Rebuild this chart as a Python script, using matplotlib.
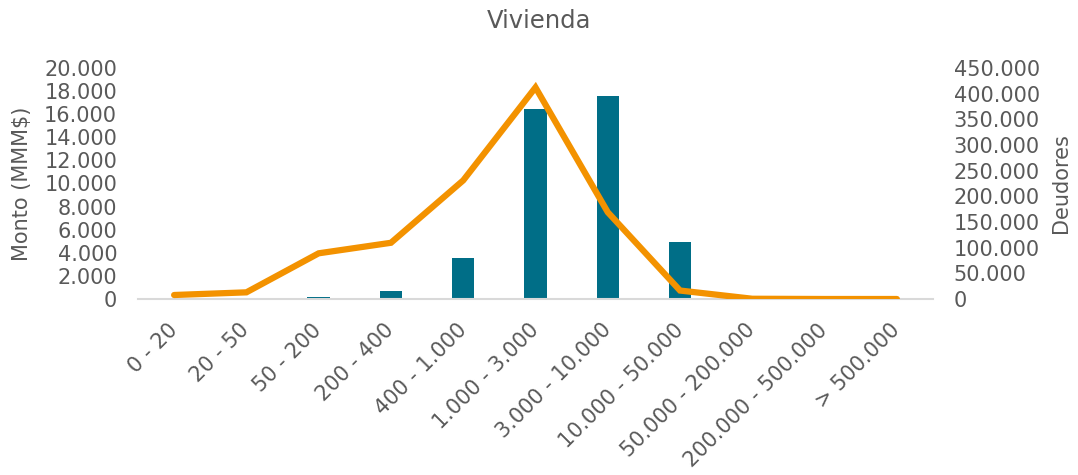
import matplotlib
matplotlib.use('Agg')
import matplotlib.pyplot as plt
from matplotlib.ticker import FuncFormatter, MultipleLocator
import numpy as np

# ── Data ──────────────────────────────────────────────────────────────────────
categories = ['0 - 20', '20 - 50', '50 - 200', '200 - 400', '400 - 1.000',
              '1.000 - 3.000', '3.000 - 10.000', '10.000 - 50.000',
              '50.000 - 200.000', '200.000 - 500.000', '> 500.000']
monto = [5, 15, 180, 700, 3550, 16450, 17600, 4950, 40, 0, 0]
deudores = [7800, 13000, 89000, 109500, 231000, 412000, 169000, 16500, 500, 20, 5]

# ── Style ─────────────────────────────────────────────────────────────────────
BAR = '#006E87'
LINE = '#F39200'
TEXT = '#595959'
BASE = '#D9D9D9'
FS = 15


def miles(v, _pos):
    return f'{int(round(v)):,}'.replace(',', '.')


fig = plt.figure(figsize=(10.78, 4.75), dpi=100)
ax = fig.add_axes([0.128, 0.3705, 0.7375, 0.4865])
ax2 = ax.twinx()

x = np.arange(len(categories))
ax.bar(x, monto, width=0.31, color=BAR, zorder=2)
ax2.plot(x, deudores, color=LINE, lw=4.5, solid_capstyle='round',
         solid_joinstyle='miter', zorder=3)

ax.set_xlim(-0.5, len(categories) - 0.5)
ax.set_ylim(0, 20000)
ax2.set_ylim(0, 450000)
ax.yaxis.set_major_locator(MultipleLocator(2000))
ax2.yaxis.set_major_locator(MultipleLocator(50000))
ax.yaxis.set_major_formatter(FuncFormatter(miles))
ax2.yaxis.set_major_formatter(FuncFormatter(miles))

ax.set_xticks(x)
ax.set_xticklabels(categories, rotation=45, ha='right', va='center',
                   rotation_mode='anchor')

for a in (ax, ax2):
    for sp in a.spines.values():
        sp.set_visible(False)
    a.tick_params(length=0, colors=TEXT, labelsize=FS, pad=15)
ax.spines['bottom'].set_visible(True)
ax.spines['bottom'].set_color(BASE)
ax.spines['bottom'].set_linewidth(1.5)
ax.tick_params(axis='x', pad=20)

ax.set_ylabel('Monto (MMM$)', color=TEXT, fontsize=FS, labelpad=9)
ax2.set_ylabel('Deudores', color=TEXT, fontsize=FS, labelpad=8)
fig.suptitle('Vivienda', color=TEXT, fontsize=17.5, y=0.98)

fig.savefig('out.png', dpi=100)
